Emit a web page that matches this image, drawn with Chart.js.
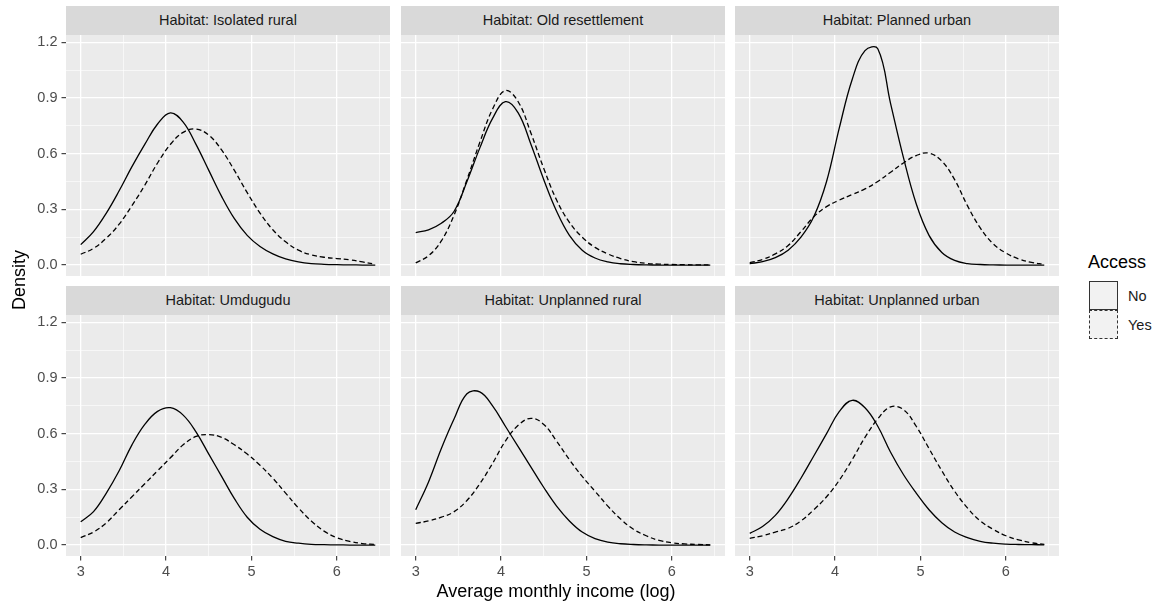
<!DOCTYPE html>
<html>
<head>
<meta charset="utf-8">
<script src="https://cdn.jsdelivr.net/npm/chart.js@4.4.1/dist/chart.umd.min.js"></script>
<style>
    body { margin: 0; background: #fff; font-family: "Liberation Sans", Arial, Helvetica, sans-serif; }
    #page { position: relative; width: 1167px; height: 606px; overflow: hidden; }
    .strip { position: absolute; background: #d9d9d9; color: #1a1a1a; font-size: 14.5px; text-align: center; }
    .panel { position: absolute; }
    .txt { position: absolute; white-space: nowrap; }
    .key { position: absolute; box-sizing: border-box; width: 29px; height: 29px; background: #f2f2f2; }
</style>
</head>
<body>
<div id="page"></div>
<script>
// values (density of log income, by habitat and access)
const income = [3.00, 3.15, 3.30, 3.45, 3.60, 3.75, 3.90, 4.05, 4.20, 4.35, 4.50, 4.65,
                4.80, 4.95, 5.10, 5.25, 5.40, 5.55, 5.70, 5.85, 6.00, 6.15, 6.30, 6.45];

const habitats = ['Isolated rural', 'Old resettlement', 'Planned urban',
                  'Umdugudu', 'Unplanned rural', 'Unplanned urban'];
const accessLevels = ['No', 'Yes'];

const isolatedRuralNo = [0.11, 0.18, 0.28, 0.40, 0.53, 0.65, 0.76, 0.82, 0.77, 0.65, 0.51, 0.37,
                         0.25, 0.16, 0.10, 0.06, 0.033, 0.017, 0.008, 0.004, 0.002, 0.001, 0.0, 0.0];
const isolatedRuralYes = [0.058, 0.09, 0.145, 0.22, 0.32, 0.43, 0.55, 0.65, 0.715, 0.733, 0.70, 0.62,
                          0.51, 0.39, 0.28, 0.19, 0.125, 0.08, 0.055, 0.042, 0.035, 0.028, 0.017, 0.004];

const oldResettlementNo = [0.175, 0.19, 0.225, 0.29, 0.45, 0.63, 0.79, 0.88, 0.82, 0.65, 0.46, 0.29,
                           0.16, 0.08, 0.038, 0.017, 0.007, 0.003, 0.001, 0.0, 0.0, 0.0, 0.0, 0.0];
const oldResettlementYes = [0.012, 0.05, 0.13, 0.27, 0.46, 0.66, 0.84, 0.94, 0.88, 0.71, 0.52, 0.35,
                            0.23, 0.15, 0.095, 0.06, 0.035, 0.018, 0.009, 0.005, 0.003, 0.002, 0.001, 0.001];

const plannedUrbanNo = [0.008, 0.018, 0.04, 0.08, 0.15, 0.26, 0.45, 0.74, 1.00, 1.155, 1.165, 0.87,
                        0.58, 0.33, 0.16, 0.068, 0.025, 0.008, 0.003, 0.001, 0.0, 0.0, 0.0, 0.0];
const plannedUrbanYes = [0.013, 0.03, 0.06, 0.105, 0.18, 0.26, 0.315, 0.35, 0.38, 0.41, 0.45, 0.50,
                         0.55, 0.59, 0.603, 0.56, 0.46, 0.32, 0.20, 0.115, 0.065, 0.033, 0.014, 0.004];

const umdugudu_No = [0.126, 0.18, 0.28, 0.40, 0.54, 0.65, 0.72, 0.74, 0.70, 0.61, 0.49, 0.37,
                     0.25, 0.15, 0.085, 0.045, 0.02, 0.01, 0.004, 0.002, 0.001, 0.0, 0.0, 0.0];
const umdugudu_Yes = [0.04, 0.07, 0.12, 0.19, 0.26, 0.33, 0.40, 0.47, 0.54, 0.585, 0.595, 0.58,
                      0.54, 0.49, 0.43, 0.36, 0.28, 0.20, 0.13, 0.075, 0.04, 0.02, 0.008, 0.003];

const unplannedRuralNo = [0.19, 0.34, 0.52, 0.68, 0.815, 0.825, 0.75, 0.64, 0.53, 0.42, 0.31, 0.21,
                          0.13, 0.07, 0.035, 0.016, 0.007, 0.003, 0.001, 0.0, 0.0, 0.0, 0.0, 0.0];
const unplannedRuralYes = [0.117, 0.13, 0.15, 0.18, 0.24, 0.33, 0.44, 0.56, 0.645, 0.683, 0.65, 0.56,
                           0.46, 0.37, 0.29, 0.21, 0.14, 0.085, 0.05, 0.025, 0.012, 0.006, 0.003, 0.001];

const unplannedUrbanNo = [0.063, 0.10, 0.16, 0.25, 0.36, 0.48, 0.60, 0.72, 0.78, 0.74, 0.64, 0.50,
                          0.38, 0.28, 0.19, 0.12, 0.07, 0.04, 0.02, 0.01, 0.005, 0.003, 0.002, 0.001];
const unplannedUrbanYes = [0.036, 0.05, 0.07, 0.09, 0.13, 0.19, 0.26, 0.35, 0.46, 0.58, 0.68, 0.745,
                           0.73, 0.64, 0.52, 0.40, 0.29, 0.20, 0.13, 0.085, 0.05, 0.028, 0.012, 0.004];

const xTicks = [3, 4, 5, 6];
const xMinorTicks = [3.5, 4.5, 5.5, 6.5];
const yTicks = [0, 0.3, 0.6, 0.9, 1.2];
const yMinorTicks = [0.15, 0.45, 0.75, 1.05];

const seriesByHabitat = [
    [isolatedRuralNo, isolatedRuralYes],
    [oldResettlementNo, oldResettlementYes],
    [plannedUrbanNo, plannedUrbanYes],
    [umdugudu_No, umdugudu_Yes],
    [unplannedRuralNo, unplannedRuralYes],
    [unplannedUrbanNo, unplannedUrbanYes]
];

// ggplot-like expanded limits
const xMin = 2.8275, xMax = 6.6225;
const yMin = -0.059, yMax = 1.2395;

const FONT = '"Liberation Sans", Arial, Helvetica, sans-serif';
const page = document.getElementById('page');

const panelLeft = [66, 401, 735];
const panelTop = [35, 315];
const panelW = 324, panelH = 241, stripH = 29;

const panelBackground = {
    id: 'panelBackground',
    beforeDraw(chart) {
        const { ctx, chartArea: a } = chart;
        ctx.save();
        ctx.fillStyle = '#ebebeb';
        ctx.fillRect(a.left, a.top, a.right - a.left, a.bottom - a.top);
        ctx.restore();
    }
};

const addText = (text, css) => {
    const d = document.createElement('div');
    d.className = 'txt';
    d.textContent = text;
    Object.assign(d.style, css);
    page.appendChild(d);
    return d;
};

const makePanel = (idx) => {
    const row = Math.floor(idx / 3);
    const col = idx % 3;
    const axW = col === 0 ? 66 : 0;
    const axH = row === 1 ? 28 : 0;

    // strip
    const strip = document.createElement('div');
    strip.className = 'strip';
    Object.assign(strip.style, {
        left: panelLeft[col] + 'px', top: (panelTop[row] - stripH) + 'px',
        width: panelW + 'px', height: stripH + 'px', lineHeight: stripH + 'px'
    });
    strip.textContent = 'Habitat: ' + habitats[idx];
    page.appendChild(strip);

    const canvas = document.createElement('canvas');
    canvas.className = 'panel';
    canvas.width = panelW + axW;
    canvas.height = panelH + axH;
    canvas.style.left = (panelLeft[col] - axW) + 'px';
    canvas.style.top = panelTop[row] + 'px';
    page.appendChild(canvas);

    const [no, yes] = seriesByHabitat[idx];
    const allX = [...xTicks, ...xMinorTicks].sort((a, b) => a - b);
    const allY = [...yTicks, ...yMinorTicks].sort((a, b) => a - b);

    new Chart(canvas.getContext('2d'), {
        type: 'line',
        data: {
            datasets: [
                { label: accessLevels[0], data: income.map((x, i) => ({ x, y: no[i] })), borderDash: [] },
                { label: accessLevels[1], data: income.map((x, i) => ({ x, y: yes[i] })), borderDash: [5, 3] }
            ]
        },
        options: {
            responsive: false,
            animation: false,
            layout: { padding: 0 },
            plugins: { legend: { display: false }, tooltip: { enabled: false } },
            elements: {
                point: { radius: 0 },
                line: { tension: 0.4, borderWidth: 1.3, borderColor: '#000', fill: false }
            },
            scales: {
                x: {
                    type: 'linear', min: xMin, max: xMax,
                    afterBuildTicks: s => { s.ticks = allX.map(v => ({ value: v })); },
                    afterFit: s => { s.height = axH; s.paddingLeft = 0; s.paddingRight = 0; },
                    border: { display: false },
                    grid: {
                        color: '#ffffff',
                        lineWidth: c => (c.tick && xTicks.includes(c.tick.value)) ? 1.3 : 0.6,
                        drawTicks: row === 1,
                        tickLength: 4.5,
                        tickWidth: 1.1,
                        tickColor: c => (c.tick && xTicks.includes(c.tick.value)) ? '#333333' : 'rgba(0,0,0,0)'
                    },
                    ticks: {
                        display: row === 1, autoSkip: false, maxRotation: 0, padding: 3,
                        color: '#4d4d4d', font: { family: FONT, size: 14.5 },
                        callback: v => xTicks.includes(v) ? String(v) : ''
                    }
                },
                y: {
                    type: 'linear', min: yMin, max: yMax,
                    afterBuildTicks: s => { s.ticks = allY.map(v => ({ value: v })); },
                    afterFit: s => { s.width = axW; s.paddingTop = 0; s.paddingBottom = 0; },
                    border: { display: false },
                    grid: {
                        color: '#ffffff',
                        lineWidth: c => (c.tick && yTicks.includes(c.tick.value)) ? 1.3 : 0.6,
                        drawTicks: col === 0,
                        tickLength: 4.5,
                        tickWidth: 1.1,
                        tickColor: c => (c.tick && yTicks.includes(c.tick.value)) ? '#333333' : 'rgba(0,0,0,0)'
                    },
                    ticks: {
                        display: col === 0, autoSkip: false, padding: 4,
                        color: '#4d4d4d', font: { family: FONT, size: 14.5 },
                        callback: v => yTicks.includes(v) ? v.toFixed(1) : ''
                    }
                }
            }
        },
        plugins: [panelBackground]
    });
};

habitats.forEach((h, i) => makePanel(i));

// axis titles
addText('Average monthly income (log)', {
    left: '356px', width: '400px', textAlign: 'center', top: '581px',
    fontSize: '18px', lineHeight: '20px', color: '#000'
});
addText('Density', {
    left: '-81px', width: '200px', textAlign: 'center', top: '270px',
    fontSize: '18px', lineHeight: '20px', color: '#000', transform: 'rotate(-90deg)'
});

// legend
addText('Access', { left: '1088px', top: '251px', fontSize: '18px', lineHeight: '22px', color: '#000' });
accessLevels.forEach((lvl, i) => {
    const k = document.createElement('div');
    k.className = 'key';
    Object.assign(k.style, {
        left: '1089px', top: (281 + i * 29) + 'px',
        border: '1.5px ' + (i === 0 ? 'solid' : 'dashed') + ' #333'
    });
    page.appendChild(k);
    addText(lvl, { left: '1128px', top: (287 + i * 29) + 'px', fontSize: '14.5px', lineHeight: '18px', color: '#1a1a1a' });
});
</script>
</body>
</html>
